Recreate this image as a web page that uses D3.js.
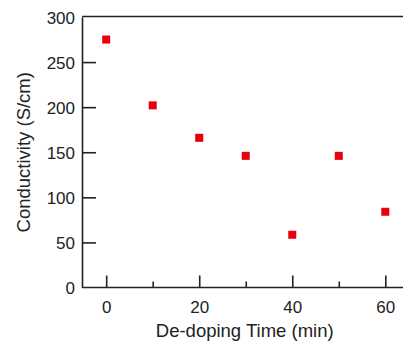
<!DOCTYPE html>
<html>
<head>
<meta charset="utf-8">
<script src="https://cdn.jsdelivr.net/npm/d3@7"></script>
<style>
html,body{margin:0;padding:0;background:#fff;}
svg{display:block;}
</style>
</head>
<body>
<svg id="chart" width="403" height="343"></svg>
<script>
const times = [0, 10, 20, 30, 40, 50, 60];
const conductivity = [275, 202, 166, 146, 58.5, 146, 84];
const yTicks = [0, 50, 100, 150, 200, 250, 300];
const xMajorTicks = [0, 20, 40, 60];
const xMinorTicks = [10, 30, 50];
const xTitle = "De-doping Time (min)";
const yTitle = "Conductivity (S/cm)";

(function () {
const svg = d3.select("#chart");
const mLeft = 82, mBottom = 287.5, mTop = 16.5;
const x = d3.scaleLinear().domain([-5.2, 60]).range([mLeft, 385.3]);
const y = d3.scaleLinear().domain([0, 300]).range([mBottom, mTop + 0.5]);
const mRight = x(66);

const font = "'Liberation Sans', Arial, sans-serif";
const textColor = "#222";

// frame top line
svg.append("line").attr("x1", mLeft).attr("x2", mRight).attr("y1", mTop).attr("y2", mTop)
  .attr("stroke", "#222").attr("stroke-width", 1.6);

// y axis
const yAxis = svg.append("g").attr("transform", `translate(${mLeft},0)`)
  .call(d3.axisLeft(y).tickValues(yTicks).tickSize(-14).tickSizeOuter(0));
yAxis.select(".domain").attr("stroke", "#222").attr("stroke-width", 1.6);
yAxis.selectAll(".tick line").attr("stroke", "#222").attr("stroke-width", 1.6);
yAxis.selectAll(".tick text").attr("font-family", font).attr("font-size", 17).attr("fill", textColor)
  .attr("x", -7).attr("dy", "0.36em");
yAxis.selectAll(".tick").filter(d => d === 0 || d === 300).select("line").remove();

// x axis major
const xAxis = svg.append("g").attr("transform", `translate(0,${mBottom})`)
  .call(d3.axisBottom(x).tickValues(xMajorTicks).tickSize(-12).tickSizeOuter(0));
xAxis.select(".domain").attr("stroke", "#222").attr("stroke-width", 1.6)
  .attr("d", `M${mLeft},0H${mRight}`);
xAxis.selectAll(".tick line").attr("stroke", "#222").attr("stroke-width", 1.6);
xAxis.selectAll(".tick text").attr("font-family", font).attr("font-size", 17).attr("fill", textColor)
  .attr("y", 25).attr("dy", 0);

// x axis minor
const xMinor = svg.append("g").attr("transform", `translate(0,${mBottom})`)
  .call(d3.axisBottom(x).tickValues(xMinorTicks).tickSize(-6).tickFormat(""));
xMinor.select(".domain").remove();
xMinor.selectAll(".tick line").attr("stroke", "#222").attr("stroke-width", 1.6);

// titles
svg.append("text").attr("x", (x(0) + x(60)) / 2 - 1).attr("y", 336.5)
  .attr("text-anchor", "middle").attr("font-family", font).attr("font-size", 18.5)
  .attr("fill", textColor).text(xTitle);
svg.append("text").attr("transform", `translate(30,${y(150)}) rotate(-90)`)
  .attr("text-anchor", "middle").attr("font-family", font).attr("font-size", 18.5)
  .attr("fill", textColor).text(yTitle);

// points
const s = 8;
svg.append("g").selectAll("rect").data(times.map((t, i) => ({t, v: conductivity[i]})))
  .join("rect")
  .attr("x", d => x(d.t) - s / 2).attr("y", d => y(d.v) - s / 2)
  .attr("width", s).attr("height", s).attr("fill", "#e8000a");
})();
</script>
</body>
</html>
